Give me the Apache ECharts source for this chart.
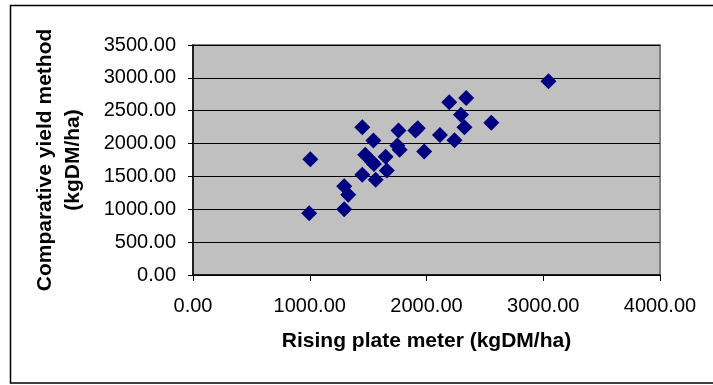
<!DOCTYPE html>
<html>
<head>
<meta charset="utf-8">
<script src="https://cdn.jsdelivr.net/npm/echarts@6/dist/echarts.min.js"></script>
<style>
html,body{margin:0;padding:0;background:#fff;}
#c{width:713px;height:385px;}
</style>
</head>
<body>
<div id="c"></div>
<script>
var rpmValues = [1005, 995, 1295, 1295, 1330, 1450, 1545, 1475, 1550, 1535, 1450, 1565, 1650, 1660, 1760, 1750, 1770, 1905, 1925, 1980, 2115, 2195, 2295, 2340, 2325, 2240, 2555, 3045];
var cymValues = [1760, 940, 1000, 1350, 1220, 2250, 2045, 1830, 1690, 1720, 1525, 1450, 1800, 1590, 2200, 1970, 1905, 2200, 2235, 1880, 2130, 2630, 2440, 2695, 2250, 2050, 2315, 2950];
var xTitle = 'Rising plate meter (kgDM/ha)';
var yTitle = 'Comparative yield method\n(kgDM/ha)';

var points = rpmValues.map(function (x, i) { return [x, cymValues[i]]; });
var font = 'Arial, "Liberation Sans", sans-serif';

var chart = echarts.init(document.getElementById('c'), null, {renderer: 'canvas'});
chart.setOption({
  animation: false,
  backgroundColor: '#ffffff',
  graphic: [{
    type: 'rect',
    shape: {x: 10.5, y: 5.5, width: 720, height: 377.5},
    style: {fill: 'none', stroke: '#000', lineWidth: 1.5},
    silent: true
  }],
  grid: {
    left: 193, top: 45, right: 53, bottom: 110,
    show: true,
    backgroundColor: '#c0c0c0',
    borderColor: '#808080',
    borderWidth: 2
  },
  xAxis: {
    type: 'value',
    min: 0, max: 4000, interval: 1000,
    name: xTitle,
    nameLocation: 'middle',
    nameGap: 56,
    nameTextStyle: {fontFamily: font, fontSize: 21, fontWeight: 'bold', color: '#000'},
    axisLine: {show: true, onZero: false, lineStyle: {color: '#000', width: 1.5}},
    axisTick: {show: true, inside: false, length: 6, lineStyle: {color: '#000'}},
    axisLabel: {
      margin: 21, fontFamily: font, fontSize: 20, color: '#000',
      formatter: function (v) { return v.toFixed(2); }
    },
    splitLine: {show: false}
  },
  yAxis: {
    type: 'value',
    min: 0, max: 3500, interval: 500,
    name: yTitle,
    nameLocation: 'middle',
    nameGap: 106,
    nameTextStyle: {fontFamily: font, fontSize: 21, fontWeight: 'bold', color: '#000', lineHeight: 28},
    axisLine: {show: true, onZero: false, lineStyle: {color: '#000', width: 1.5}},
    axisTick: {show: true, inside: false, length: 5, lineStyle: {color: '#000'}},
    axisLabel: {
      margin: 17, fontFamily: font, fontSize: 20, color: '#000',
      formatter: function (v) { return v.toFixed(2); }
    },
    splitLine: {show: true, lineStyle: {color: '#000', width: 1}}
  },
  series: [{
    type: 'scatter',
    symbol: 'diamond',
    symbolSize: [16, 16],
    itemStyle: {color: '#000080', opacity: 1},
    data: points
  }]
});
</script>
</body>
</html>
